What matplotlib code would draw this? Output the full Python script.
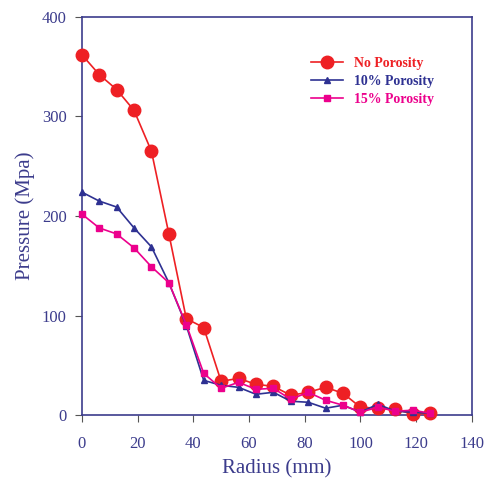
import matplotlib
matplotlib.use("Agg")
import matplotlib.pyplot as plt

radius = [0, 6.25, 12.5, 18.75, 25, 31.25, 37.5, 43.75, 50, 56.25, 62.5,
          68.75, 75, 81.25, 87.5, 93.75, 100, 106.25, 112.5, 118.75, 125]
no_porosity = [362, 342, 327, 306, 265, 182, 97, 88, 34, 37, 31,
               29, 20, 23, 28, 22, 8, 7, 6, 1, 2]
porosity_10 = [224, 215, 209, 188, 169, 133, 90, 35, 30, 28, 21,
               23, 14, 13, 7, 10, 3, 11, 4, 3, 2]
porosity_15 = [202, 188, 182, 168, 149, 133, 91, 42, 27, 33, 26,
               27, 16, 23, 15, 10, 3, 8, 4, 5, 2]

x_ticks = [0, 20, 40, 60, 80, 100, 120, 140]
y_ticks = [0, 100, 200, 300, 400]

RED = "#ee2024"
BLUE = "#2e3192"
MAGENTA = "#ec008c"
AXCOL = "#3c3c8c"

plt.rcParams["font.family"] = ["Liberation Serif", "DejaVu Serif"]

fig = plt.figure(figsize=(4.84, 4.80), dpi=100)
ax = fig.add_axes([0.169, 0.135, 0.806, 0.83])

ax.plot(radius, no_porosity, color=RED, marker="o", ms=9, lw=1.2,
        label="No Porosity", clip_on=False, zorder=3)
ax.plot(radius, porosity_10, color=BLUE, marker="^", ms=4, lw=1.2,
        label="10% Porosity", clip_on=False, zorder=4)
ax.plot(radius, porosity_15, color=MAGENTA, marker="s", ms=4, lw=1.2,
        label="15% Porosity", clip_on=False, zorder=5)

ax.set_xlim(0, 140)
ax.set_ylim(0, 400)
ax.set_xticks(x_ticks)
ax.set_yticks(y_ticks)
ax.tick_params(direction="out", length=5, color="#555555", labelcolor=AXCOL,
               labelsize=12)
ax.tick_params(axis="x", pad=10)
ax.tick_params(axis="y", pad=6)
for sp in ax.spines.values():
    sp.set_color(AXCOL)
    sp.set_linewidth(1.2)

ax.set_xlabel("Radius (mm)", fontsize=15, color=AXCOL, labelpad=5)
ax.set_ylabel("Pressure (Mpa)", fontsize=15, color=AXCOL, labelpad=5)

leg = ax.legend(loc="upper right", bbox_to_anchor=(0.935, 0.93), frameon=False,
                prop={"weight": "bold", "size": 10}, handlelength=2.3,
                labelspacing=0.35)
for txt, col in zip(leg.get_texts(), [RED, BLUE, MAGENTA]):
    txt.set_color(col)

fig.savefig("out.png", dpi=100, facecolor="white")
